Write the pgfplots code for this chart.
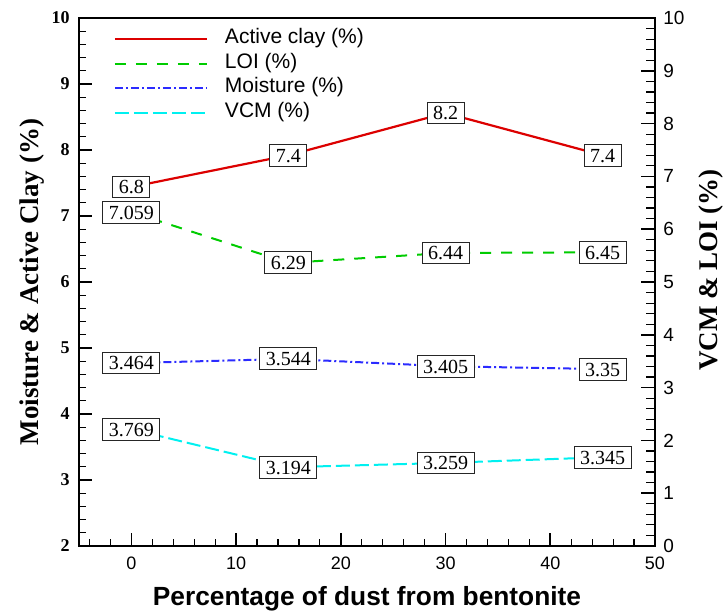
\documentclass[border=0pt]{standalone}
\usepackage{fontspec}
\setmainfont{Liberation Serif}
\setsansfont{Liberation Sans}
\usepackage{pgfplots}
\pgfplotsset{compat=1.18}
\definecolor{clayred}{HTML}{DC0000}
\definecolor{loigreen}{HTML}{00CC00}
\definecolor{moistblue}{HTML}{2B2BFF}
\definecolor{vcmcyan}{HTML}{00F0F0}

\pgfplotsset{
  claystyle/.style={clayred, line width=1.1pt, mark=none},
  loistyle/.style={loigreen, line width=1pt, mark=none, dash pattern=on 5.5pt off 5pt},
  moiststyle/.style={moistblue, line width=1pt, mark=none, dash pattern=on 4pt off 1.5pt on 1pt off 1.5pt},
  vcmstyle/.style={vcmcyan, line width=1pt, mark=none, dash pattern=on 7pt off 2.5pt},
  valbox/.style={nodes near coords, point meta=explicit symbolic,
    every node near coord/.append style={anchor=center, draw=black!85, solid,
      line width=0.5pt, fill=white, text=black, inner xsep=3pt, inner ysep=2pt,
      text height=6.9pt, text depth=0pt, font=\fontsize{10}{10}\selectfont\rmfamily}},
  baseaxis/.style={scale only axis, width=288pt, height=264pt,
    at={(0,0)}, anchor=south west, xmin=-5, xmax=50,
    axis line style={line width=1.2pt},
    tick style={black, line width=0.8pt},
    minor tick style={black, line width=0.6pt},
    /pgf/number format/assume math mode=true},
}

\begin{document}
\begin{tikzpicture}
\useasboundingbox (-39.5pt,-32.5pt) rectangle (322.5pt,273pt);

% left scale: LOI and VCM
\begin{axis}[
  baseaxis,
  ymin=2, ymax=10,
  xtick={0,10,...,50}, minor xtick={-4,-2,...,48},
  ytick={2,...,10}, minor y tick num=4,
  xtick pos=left, ytick pos=left,
  major tick length=6.5pt, minor tick length=3.5pt,
  xticklabel style={font=\fontsize{9}{9}\selectfont\sffamily, inner sep=0pt, anchor=north, yshift=-5.3pt},
  yticklabel style={font=\fontsize{9}{9}\selectfont\rmfamily\bfseries, inner sep=0pt, anchor=east, xshift=-4.5pt},
  xlabel={Percentage of dust from bentonite},
  ylabel={Moisture \& Active Clay (\%)},
  every axis x label/.style={at={(rel axis cs:0.5,0)}, anchor=base, yshift=-29.5pt,
    font=\fontsize{13.15}{13.15}\selectfont\sffamily\bfseries},
  every axis y label/.style={at={(rel axis cs:0,0.5)}, xshift=-20.25pt, rotate=90, anchor=base,
    font=\fontsize{13.5}{13.5}\selectfont\rmfamily\bfseries},
]
\addplot[loistyle, valbox] table[meta=lab, row sep=\\] {
x y lab\\
0 7.059 7.059\\
15 6.29 6.29\\
30 6.44 6.44\\
45 6.45 6.45\\
};
\addplot[vcmstyle, valbox] table[meta=lab, row sep=\\] {
x y lab\\
0 3.769 3.769\\
15 3.194 3.194\\
30 3.259 3.259\\
45 3.345 3.345\\
};
\end{axis}

% right scale: Active clay and Moisture
\begin{axis}[
  baseaxis,
  ymin=0, ymax=10,
  axis x line=none, axis y line*=right,
  ytick={0,...,10}, minor y tick num=4,
  major tick length=7pt, minor tick length=4.5pt,
  yticklabel style={font=\fontsize{9.5}{9.5}\selectfont\sffamily, inner sep=0pt, anchor=west, xshift=4pt},
  ylabel={VCM \& LOI (\%)},
  every axis y label/.style={at={(rel axis cs:1,0.5)}, xshift=31pt, yshift=6pt, rotate=90, anchor=base,
    font=\fontsize{13.5}{13.5}\selectfont\rmfamily\bfseries},
  legend image code/.code={\draw[#1] (0pt,0pt) -- (46pt,0pt);},
  legend style={draw=none, fill=none, inner sep=0pt, row sep=0pt, column sep=8.5pt,
    font=\fontsize{10.5}{12}\selectfont\sffamily,
    nodes={inner sep=0pt, text height=8.5pt, text depth=3.75pt},
    at={(rel axis cs:0,1)}, anchor=north west, xshift=17.2pt, yshift=-4.3pt},
  legend cell align=left,
]
\addplot[claystyle, valbox] table[meta=lab, row sep=\\] {
x y lab\\
0 6.8 6.8\\
15 7.4 7.4\\
30 8.2 8.2\\
45 7.4 7.4\\
};
\addlegendentry{Active clay (\%)}
\addlegendimage{loistyle}
\addlegendentry{LOI (\%)}
\addplot[moiststyle, valbox] table[meta=lab, row sep=\\] {
x y lab\\
0 3.464 3.464\\
15 3.544 3.544\\
30 3.405 3.405\\
45 3.35 3.35\\
};
\addlegendentry{Moisture (\%)}
\addlegendimage{vcmstyle}
\addlegendentry{VCM (\%)}
\end{axis}
\end{tikzpicture}
\end{document}
